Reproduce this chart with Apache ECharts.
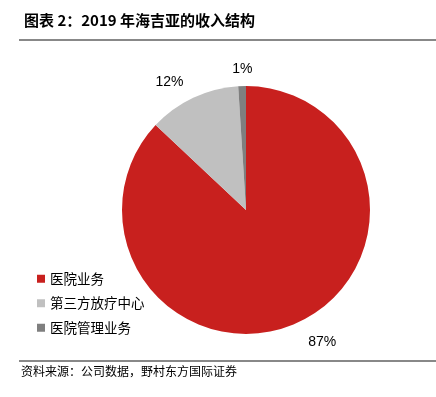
<!DOCTYPE html>
<html lang="zh">
<head>
    <meta charset="utf-8">
    <title>2019年海吉亚的收入结构</title>
    <script src="https://cdn.jsdelivr.net/npm/echarts@6/dist/echarts.min.js"></script>
</head>
<style>
    html,body{margin:0;padding:0;background:#fff;}
    #chart{width:436px;height:397px;}
</style>
<body>
<div id="chart"></div>
<script>
    var categories = ['医院业务', '第三方放疗中心', '医院管理业务'];
    var values = [87, 12, 1];
    var colors = ['#C8201E', '#C0C0C0', '#7F7F7F'];

    var pieData = [];
    for (var i = 0; i < categories.length; i++) {
        pieData.push({name: categories[i], value: values[i], itemStyle: {color: colors[i]}});
    }

    var myChart = echarts.init(document.getElementById('chart'), null, {renderer: 'canvas'});
    var option = {
        animation: false,
        title: {
            text: '图表 2：2019 年海吉亚的收入结构',
            left: 19,
            top: 8,
            textStyle: {
                fontFamily: 'Noto Sans CJK SC',
                fontSize: 15,
                fontWeight: 'bold',
                color: '#000'
            }
        },
        legend: {
            orient: 'vertical',
            left: 32,
            top: 267,
            itemWidth: 8,
            itemHeight: 8,
            itemGap: 11,
            icon: 'rect',
            data: categories,
            textStyle: {
                fontFamily: 'Noto Sans CJK SC',
                fontSize: 13.5,
                color: '#000'
            }
        },
        graphic: [
            {type: 'rect', shape: {x: 19, y: 39, width: 417, height: 2}, style: {fill: '#888'}},
            {type: 'rect', shape: {x: 19, y: 360, width: 417, height: 2}, style: {fill: '#888'}},
            {type: 'text', left: 21, top: 365, style: {text: '资料来源：公司数据，野村东方国际证券', font: '12px "Noto Sans CJK SC"', fill: '#000'}}
        ],
        series: [
            {
                type: 'pie',
                center: [246, 210],
                radius: [0, 124],
                startAngle: 90,
                clockwise: true,
                data: pieData,
                label: {
                    show: true,
                    position: 'outside',
                    formatter: function (p) { return p.value + '%'; },
                    fontFamily: 'Liberation Sans',
                    fontSize: 14,
                    color: '#000'
                },
                labelLine: {show: false, length: 20, length2: 0},
                labelLayout: function (p) {
                    // 小扇区标签略微右移，与原图对齐
                    if (p.dataIndex === 2) return {dx: 16, dy: 3};
                    if (p.dataIndex === 1) return {dx: 4};
                    return {};
                },
                emphasis: {disabled: true}
            }
        ]
    };
    myChart.setOption(option);
</script>
</body>
</html>
